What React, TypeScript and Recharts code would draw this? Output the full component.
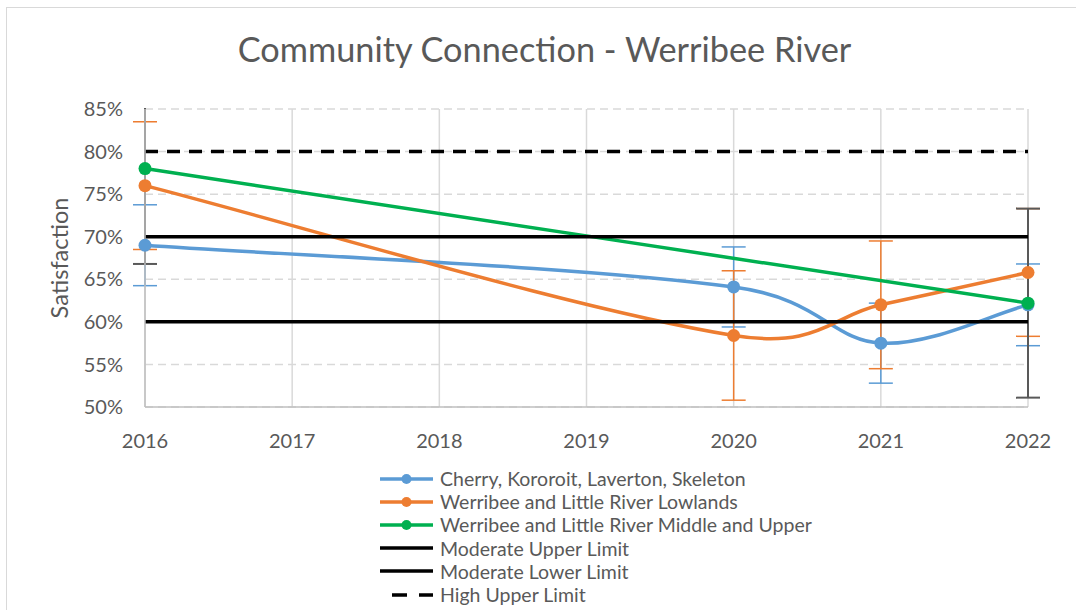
import React from "react";
import { LineChart, Line, XAxis, YAxis, CartesianGrid, ErrorBar, Legend } from "recharts";

const years = [2016, 2020, 2021, 2022];
const cherry = [69.0, 64.1, 57.5, 62.0];
const cherryErr = [4.75, 4.7, 4.7, 4.8];
const lowlands = [76.0, 58.4, 62.0, 65.8];
const lowlandsErr = [7.5, 7.6, 7.5, 7.5];
const middleUpper: (number | null)[] = [78.0, null, null, 62.2];
const middleUpperErr: (number | null)[] = [11.2, null, null, 11.1];
const moderateUpper = [70, 70, 70, 70];
const moderateLower = [60, 60, 60, 60];
const highUpper = [80, 80, 80, 80];

const xTicks = [2016, 2017, 2018, 2019, 2020, 2021, 2022];
const yTicks = [50, 55, 60, 65, 70, 75, 80, 85];

const names = {
  cherry: "Cherry, Kororoit, Laverton, Skeleton",
  lowlands: "Werribee and Little River Lowlands",
  middleUpper: "Werribee and Little River Middle and Upper",
  moderateUpper: "Moderate Upper Limit",
  moderateLower: "Moderate Lower Limit",
  highUpper: "High Upper Limit",
};

const BLUE = "#5B9BD5";
const ORANGE = "#ED7D31";
const GREEN = "#00B050";
const TEXT = "#595959";
const FONT = "Lato, 'Open Sans', sans-serif";

const data = years.map((y, i) => ({
  year: y,
  cherry: cherry[i],
  cherryErr: cherryErr[i],
  lowlands: lowlands[i],
  lowlandsErr: lowlandsErr[i],
  middleUpper: middleUpper[i],
  middleUpperErr: middleUpperErr[i],
  moderateUpper: moderateUpper[i],
  moderateLower: moderateLower[i],
  highUpper: highUpper[i],
}));

// Excel-like smoothed line (blend of uniform and chord-length scaled Catmull-Rom bezier)
function excelCurve(context: any) {
  let pts: number[][] = [];
  const dist = (a: number[], b: number[]) => Math.hypot(a[0] - b[0], a[1] - b[1]);
  return {
    areaStart() {},
    areaEnd() {},
    lineStart() {
      pts = [];
    },
    point(x: number, y: number) {
      pts.push([+x, +y]);
    },
    lineEnd() {
      const n = pts.length;
      if (n === 0) return;
      context.moveTo(pts[0][0], pts[0][1]);
      if (n === 1) return;
      for (let i = 0; i < n - 1; i++) {
        const p0 = pts[Math.max(i - 1, 0)];
        const p1 = pts[i];
        const p2 = pts[i + 1];
        const p3 = pts[Math.min(i + 2, n - 1)];
        const d01 = dist(p0, p1);
        const d12 = dist(p1, p2);
        const d23 = dist(p2, p3);
        const s1 = d01 + d12 > 0 ? d12 / (d01 + d12) / 3 : 0;
        const s2 = d12 + d23 > 0 ? d12 / (d12 + d23) / 3 : 0;
        const r1 = (s1 + 1 / 6) / 2;
        const r2 = (s2 + 1 / 6) / 2;
        const c1x = p1[0] + (p2[0] - p0[0]) * r1;
        const c1y = p1[1] + (p2[1] - p0[1]) * r1;
        const c2x = p2[0] - (p3[0] - p1[0]) * r2;
        const c2y = p2[1] - (p3[1] - p1[1]) * r2;
        context.bezierCurveTo(c1x, c1y, c2x, c2y, p2[0], p2[1]);
      }
    },
  };
}

const legendItems = [
  { name: names.cherry, color: BLUE, dot: true, dash: undefined as string | undefined },
  { name: names.lowlands, color: ORANGE, dot: true, dash: undefined },
  { name: names.middleUpper, color: GREEN, dot: true, dash: undefined },
  { name: names.moderateUpper, color: "#000", dot: false, dash: undefined },
  { name: names.moderateLower, color: "#000", dot: false, dash: undefined },
  { name: names.highUpper, color: "#000", dot: false, dash: "15 12" },
];

const renderLegend = () => (
  <div style={{ fontFamily: FONT, fontSize: 19.5, color: TEXT }}>
    {legendItems.map((it) => (
      <div key={it.name} style={{ display: "flex", alignItems: "center", height: 23.2 }}>
        <svg width={60} height={14} style={{ flex: "none" }}>
          <line
            x1={it.dash ? 12 : 0}
            y1={7}
            x2={53}
            y2={7}
            stroke={it.color}
            strokeWidth={3.5}
            strokeDasharray={it.dash}
          />
          {it.dot && <circle cx={26.5} cy={7} r={5} fill={it.color} />}
        </svg>
        <span style={{ whiteSpace: "nowrap" }}>{it.name}</span>
      </div>
    ))}
  </div>
);

export default function App() {
  return (
    <div style={{ position: "absolute", left: 0, top: 0, width: 1076, height: 610, background: "#fff", overflow: "hidden" }}>
      <style>{".recharts-errorBars { clip-path: url(#errClip); }"}</style>
      <svg width={0} height={0} style={{ position: "absolute" }}>
        <defs>
          <clipPath id="errClip" clipPathUnits="userSpaceOnUse">
            <rect x={0} y={108} width={1076} height={302} />
          </clipPath>
        </defs>
      </svg>
      <div
        style={{
          position: "absolute",
          left: 6,
          top: 7,
          width: 1200,
          height: 800,
          border: "1.5px solid #d9d9d9",
          boxSizing: "border-box",
        }}
      />
      <div
        style={{
          position: "absolute",
          left: 0,
          top: 28,
          width: 1089,
          textAlign: "center",
          fontFamily: FONT,
          fontSize: 34.3,
          color: TEXT,
        }}
      >
        Community Connection - Werribee River
      </div>
      <div style={{ position: "absolute", left: 0, top: 0 }}>
        <LineChart width={1076} height={610} data={data} margin={{ top: 109, right: 48, bottom: 173, left: 0 }}>
          <CartesianGrid horizontal={true} vertical={false} stroke="#d9d9d9" strokeDasharray="8 5" strokeWidth={1.5} />
          <CartesianGrid horizontal={false} vertical={true} stroke="#d9d9d9" strokeWidth={1.5} />
          <XAxis
            dataKey="year"
            type="number"
            domain={[2016, 2022]}
            ticks={xTicks}
            tickLine={false}
            tickSize={0}
            tickMargin={27}
            stroke="#bfbfbf"
            strokeWidth={1.5}
            height={30}
            tick={{ fill: TEXT, fontSize: 20, fontFamily: FONT }}
          />
          <YAxis
            type="number"
            domain={[50, 85]}
            allowDataOverflow={true}
            ticks={yTicks}
            tickFormatter={(v: number) => `${v}%`}
            tickLine={false}
            tickSize={0}
            tickMargin={22}
            stroke="#bfbfbf"
            strokeWidth={1.5}
            width={145}
            tick={{ fill: TEXT, fontSize: 20, fontFamily: FONT }}
            label={{
              value: "Satisfaction",
              angle: -90,
              position: "insideLeft",
              offset: 60,
              style: { fill: TEXT, fontSize: 23.5, fontFamily: FONT, textAnchor: "middle" },
            }}
          />
          <Line
            dataKey="cherry"
            name={names.cherry}
            type={excelCurve as any}
            stroke={BLUE}
            strokeWidth={3.5}
            dot={{ r: 6.5, fill: BLUE, stroke: BLUE, strokeWidth: 0 }}
            activeDot={false}
            isAnimationActive={false}
          >
            <ErrorBar dataKey="cherryErr" direction="y" width={12} stroke={BLUE} strokeWidth={1.5} />
          </Line>
          <Line
            dataKey="lowlands"
            name={names.lowlands}
            type={excelCurve as any}
            stroke={ORANGE}
            strokeWidth={3.5}
            dot={{ r: 6.5, fill: ORANGE, stroke: ORANGE, strokeWidth: 0 }}
            activeDot={false}
            isAnimationActive={false}
          >
            <ErrorBar dataKey="lowlandsErr" direction="y" width={12} stroke={ORANGE} strokeWidth={1.5} />
          </Line>
          <Line
            dataKey="middleUpper"
            name={names.middleUpper}
            type={excelCurve as any}
            connectNulls={true}
            stroke={GREEN}
            strokeWidth={3.5}
            dot={{ r: 6.5, fill: GREEN, stroke: GREEN, strokeWidth: 0 }}
            activeDot={false}
            isAnimationActive={false}
          >
            <ErrorBar dataKey="middleUpperErr" direction="y" width={12} stroke="#595959" strokeWidth={2} />
          </Line>
          <Line
            dataKey="moderateUpper"
            name={names.moderateUpper}
            type="linear"
            stroke="#000"
            strokeWidth={3.5}
            dot={false}
            activeDot={false}
            isAnimationActive={false}
          />
          <Line
            dataKey="moderateLower"
            name={names.moderateLower}
            type="linear"
            stroke="#000"
            strokeWidth={3.5}
            dot={false}
            activeDot={false}
            isAnimationActive={false}
          />
          <Line
            dataKey="highUpper"
            name={names.highUpper}
            type="linear"
            stroke="#000"
            strokeWidth={3.5}
            strokeDasharray="13 9"
            dot={false}
            activeDot={false}
            isAnimationActive={false}
          />
          <Legend
            layout="vertical"
            align="center"
            verticalAlign="middle"
            content={renderLegend}
            wrapperStyle={{ position: "absolute", left: 380, top: 467, width: 600, height: 140 }}
          />
        </LineChart>
      </div>
    </div>
  );
}
